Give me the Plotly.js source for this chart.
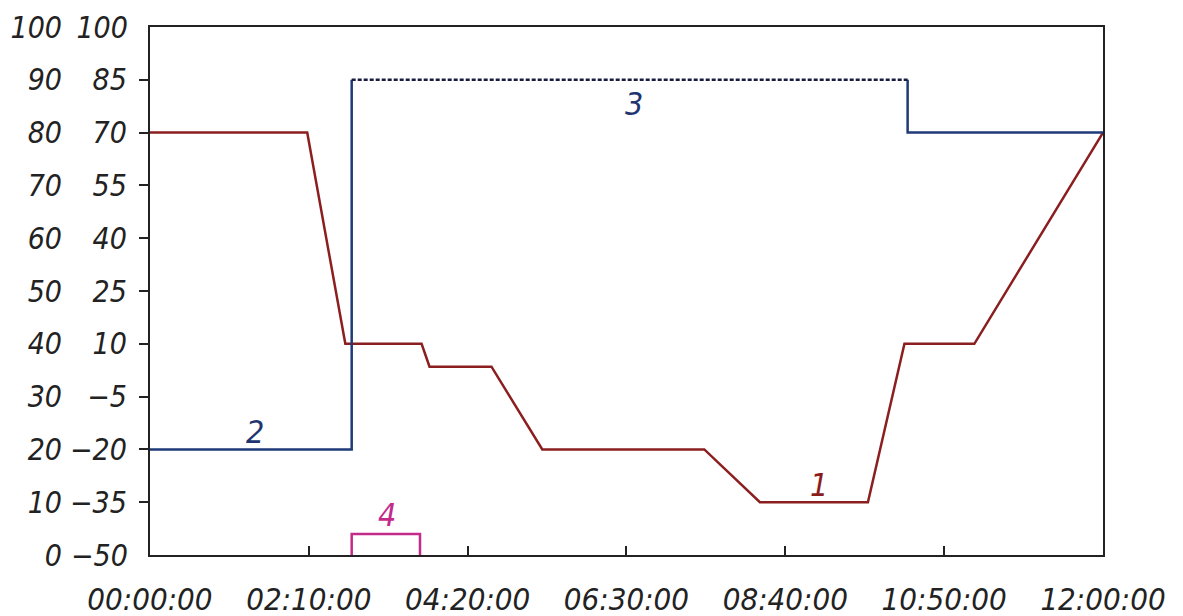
<!DOCTYPE html>
<html>
<head>
<meta charset="utf-8">
<script src="https://cdn.plot.ly/plotly-3.0.1.min.js"></script>
<style>html,body{margin:0;padding:0;background:#fff;}#chart{width:1183px;height:616px;}</style>
</head>
<body>
<div id="chart"></div>
<script>
// x positions are in tick-interval units (0 = 00:00:00 ... 6 = 12:00:00)
const tickLabels = ["00:00:00","02:10:00","04:20:00","06:30:00","08:40:00","10:50:00","12:00:00"];
const tickPos = [0,1,2,3,4,5,6];

// Curve 1 (red), values on inner scale (-50..100)
const curve1X = [0, 0.99, 1.23, 1.71, 1.76, 2.15, 2.47, 3.49, 3.84, 4.52, 4.75, 5.19, 6];
const curve1Y = [70, 70, 10, 10, 3.5, 3.5, -20, -20, -35, -35, 10, 10, 70];

// Curve 2 (blue, solid parts)
const curve2aX = [0, 1.27, 1.27];
const curve2aY = [-20, -20, 85];
const curve2bX = [4.77, 4.77, 6];
const curve2bY = [85, 70, 70];
// Curve 3 (dotted top)
const curve3X = [1.27, 4.77];
const curve3Y = [85, 85];
// Curve 4 (magenta bracket)
const curve4X = [1.27, 1.27, 1.70, 1.70];
const curve4Y = [-50, -44, -44, -50];

// labels
const labelText = ["1","2","3","4"];
const labelX = [4.21, 0.66, 3.05, 1.49];
const labelY = [-30, -15, 78, -38.5];
const labelColor = ["#8b1c1c","#1f3570","#1f3570","#c42a8a"];

// axis ticks
const innerTicks = [-35,-20,-5,10,25,40,55,70,85];
const innerEnds = [-50,100];
const outerTicks = [0,10,20,30,40,50,60,70,80,90,100];

const FONT = "DejaVu Sans Condensed, DejaVu Sans, sans-serif";
const TF = {family: FONT, size: 30, color: "#222", style: "italic"};

const traces = [
  {x: curve1X, y: curve1Y, mode: "lines", line: {color: "#8b1f1f", width: 2.5}, hoverinfo: "skip"},
  {x: curve2aX, y: curve2aY, mode: "lines", line: {color: "#1f3a78", width: 2.5}, hoverinfo: "skip"},
  {x: curve2bX, y: curve2bY, mode: "lines", line: {color: "#1f3a78", width: 2.5}, hoverinfo: "skip"},
  {x: curve3X, y: curve3Y, mode: "lines", line: {color: "#1a1c40", width: 2.5, dash: "4px,2px"}, hoverinfo: "skip"},
  {x: curve4X, y: curve4Y, mode: "lines", line: {color: "#c42a8a", width: 2.5}, hoverinfo: "skip"},
  {x: [0], y: [0], yaxis: "y2", mode: "markers", marker: {opacity: 0}, hoverinfo: "skip"},
  {x: [0], y: [0], yaxis: "y3", mode: "markers", marker: {opacity: 0}, hoverinfo: "skip"}
];

const annotations = labelText.map((t, i) => ({
  x: labelX[i], y: labelY[i], xref: "x", yref: "y", text: t, showarrow: false,
  font: {family: FONT, size: 32, color: labelColor[i], style: "italic"}
}));

const layout = {
  width: 1183, height: 616,
  margin: {l: 62, r: 80, t: 27, b: 61},
  paper_bgcolor: "#fff", plot_bgcolor: "#fff",
  showlegend: false,
  xaxis: {
    domain: [0.0845, 1],
    range: [0, 6], tickvals: tickPos, ticktext: tickLabels,
    ticks: "inside", ticklen: 9, tickwidth: 2, tickcolor: "#222",
    showline: true, mirror: true, linecolor: "#222", linewidth: 2,
    showgrid: false, zeroline: false, ticklabelstandoff: 16,
    tickfont: Object.assign({}, TF, {size: 31})
  },
  yaxis: {
    range: [-50, 100], tickvals: innerTicks,
    ticks: "outside", ticklen: 9, tickwidth: 2, tickcolor: "#222",
    showline: true, mirror: true, linecolor: "#222", linewidth: 2,
    showgrid: false, zeroline: false, ticklabelstandoff: 6,
    tickfont: TF
  },
  yaxis3: {
    range: [-50, 100], tickvals: innerEnds, overlaying: "y", side: "left", anchor: "x",
    ticks: "outside", ticklen: 9, tickwidth: 2, tickcolor: "rgba(0,0,0,0)",
    showline: false, showgrid: false, zeroline: false, ticklabelstandoff: 6,
    tickfont: TF
  },
  yaxis2: {
    range: [0, 100], tickvals: outerTicks, overlaying: "y", side: "left",
    anchor: "free", position: 0,
    ticks: "", showline: false, showgrid: false, zeroline: false,
    tickfont: TF
  },
  annotations: annotations
};

Plotly.newPlot("chart", traces, layout, {staticPlot: true, displayModeBar: false});
</script>
</body>
</html>
